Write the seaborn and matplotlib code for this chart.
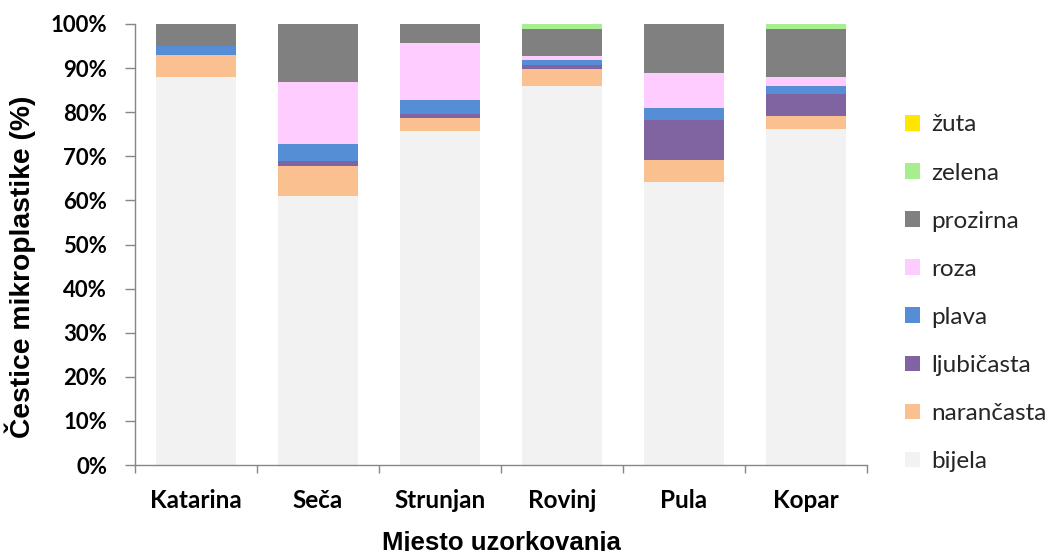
import matplotlib
matplotlib.use("Agg")
import matplotlib.pyplot as plt
import matplotlib.ticker as mticker
from matplotlib.patches import Patch
import numpy as np
import seaborn as sns

sites = ["Katarina", "Seča", "Strunjan", "Rovinj", "Pula", "Kopar"]
bijela = [88.0, 61.0, 75.7, 85.9, 64.2, 76.1]
narancasta = [5.0, 6.9, 3.0, 4.0, 5.0, 3.0]
ljubicasta = [0.0, 1.0, 1.0, 0.9, 9.0, 5.0]
plava = [2.0, 4.0, 3.0, 1.0, 2.8, 1.9]
roza = [0.0, 13.9, 13.1, 1.0, 8.0, 2.0]
prozirna = [5.0, 13.2, 4.2, 6.1, 11.0, 10.9]
zelena = [0.0, 0.0, 0.0, 1.1, 0.0, 1.1]
zuta = [0.0, 0.0, 0.0, 0.0, 0.0, 0.0]

layer_names = ["bijela", "narančasta", "ljubičasta", "plava", "roza", "prozirna", "zelena", "žuta"]
layers = [bijela, narancasta, ljubicasta, plava, roza, prozirna, zelena, zuta]
colors = ["#F2F2F2", "#FAC090", "#8064A2", "#558ED5", "#FFCCFF", "#808080", "#A6EE8F", "#FFE500"]

sns.set_theme(style="white")
plt.rcParams["font.family"] = ["Liberation Sans", "DejaVu Sans"]

fig = plt.figure(figsize=(10.52, 5.51), dpi=100)
ax = fig.add_axes([135 / 1052, 86 / 551, 732 / 1052, 441 / 551])

cum = np.cumsum(np.array(layers), axis=0)
for i in range(len(layers) - 1, -1, -1):
    sns.barplot(x=sites, y=cum[i], color=colors[i], width=0.65, ax=ax,
                saturation=1, edgecolor="none", linewidth=0)

ax.set_ylim(0, 100)
ax.set_xlim(-0.5, len(sites) - 0.5)
ax.yaxis.set_major_locator(mticker.MultipleLocator(10))
ax.yaxis.set_major_formatter(mticker.FuncFormatter(lambda v, p: f"{int(round(v))}%"))
ax.set_xticks(np.arange(len(sites)))
ax.set_xticklabels(sites)
ax.set_xticks(np.arange(-0.5, len(sites)), minor=True)
ax.tick_params(axis="x", which="major", length=0, pad=17)
ax.tick_params(axis="x", which="minor", length=6, width=1, color="#868686", direction="out", bottom=True)
ax.tick_params(axis="y", which="major", length=7, width=1, color="#868686", direction="out", left=True, pad=13)
for lab in ax.get_xticklabels():
    lab.set_fontweight("bold")
    lab.set_fontsize(17.5)
    lab.set_fontfamily(["Lato", "DejaVu Sans"])
    lab.set_color("black")
for lab in ax.get_yticklabels():
    lab.set_fontweight("bold")
    lab.set_fontsize(16)
    lab.set_fontfamily(["Lato", "DejaVu Sans"])
    lab.set_color("black")

for s in ["top", "right"]:
    ax.spines[s].set_visible(False)
for s in ["left", "bottom"]:
    ax.spines[s].set_color("#868686")
    ax.spines[s].set_linewidth(1)

ax.set_xlabel("Mjesto uzorkovanja", fontsize=18.5, fontweight="bold", color="black")
ax.xaxis.set_label_coords(0.5, -0.149)
ax.set_ylabel("Čestice mikroplastike (%)", fontsize=20.3, fontweight="bold", color="black")
ax.yaxis.set_label_coords(-0.135, 0.449)

handles = [Patch(facecolor=colors[i], edgecolor="none") for i in range(len(layers) - 1, -1, -1)]
labels = [layer_names[i] for i in range(len(layers) - 1, -1, -1)]
leg = fig.legend(handles, labels, loc="upper left", bbox_to_anchor=(0.839, 0.832),
                 frameon=False, handlelength=0.62, handleheight=0.62,
                 handletextpad=0.5, labelspacing=1.115, prop={"family": "Lato", "size": 17.5})

fig.savefig("out.png", dpi=100)
